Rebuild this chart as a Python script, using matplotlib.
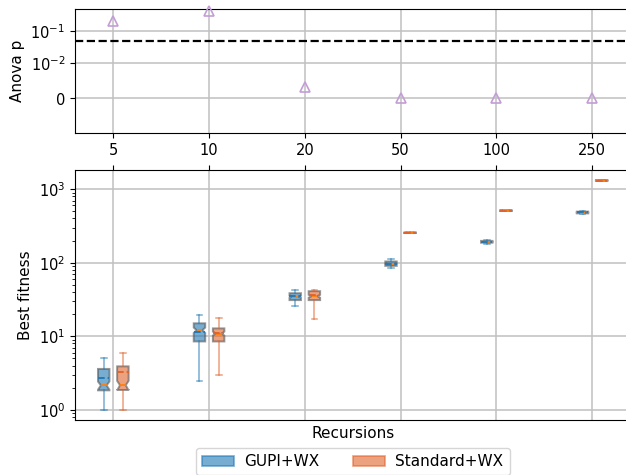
import matplotlib
matplotlib.use("Agg")
import matplotlib.pyplot as plt
from matplotlib.patches import Patch
import numpy as np

recursions = ["5", "10", "20", "50", "100", "250"]
anova_p = [0.22, 0.45, 0.0031, 0.0, 0.0, 0.0]
alpha_level = 0.05

# per-group box statistics, one list per quantity
gupi_med = [2.15, 12.1, 34.5, 96.0, 192.0, 480.0]
gupi_mean = [2.72, 11.4, 34.8, 97.0, 193.0, 482.0]
gupi_q1 = [1.84, 8.5, 31.0, 90.5, 187.0, 468.0]
gupi_q3 = [3.6, 15.0, 38.5, 104.0, 198.0, 495.0]
gupi_lo = [1.0, 2.5, 25.6, 85.0, 181.0, 455.0]
gupi_hi = [5.0, 19.4, 43.0, 113.0, 205.0, 512.0]

std_med = [2.16, 10.9, 35.0, 255.0, 510.0, 1310.0]
std_mean = [3.25, 11.0, 36.5, 255.0, 510.0, 1310.0]
std_q1 = [1.86, 8.5, 31.0, 253.0, 506.0, 1300.0]
std_q3 = [3.9, 12.8, 41.0, 257.0, 514.0, 1320.0]
std_lo = [1.0, 3.0, 17.0, 252.0, 504.0, 1295.0]
std_hi = [6.0, 17.9, 42.0, 258.0, 516.0, 1325.0]

series = [
    ("GUPI+WX", "#1f77b4", -0.1,
     gupi_med, gupi_mean, gupi_q1, gupi_q3, gupi_lo, gupi_hi),
    ("Standard+WX", "#e0622a", 0.1,
     std_med, std_mean, std_q1, std_q3, std_lo, std_hi),
]

plt.rcParams["font.size"] = 10.5

fig = plt.figure(figsize=(6.26, 4.75), dpi=100)
ax_p = fig.add_axes([0.1198, 0.7194, 0.8872, 0.2610])
ax_f = fig.add_axes([0.1198, 0.1151, 0.8872, 0.5270])

x = np.arange(len(recursions))

# anova p-values on a symlog scale
ax_p.plot(x, anova_p, "^", mfc="none", mec="#c49dd6", ms=7, mew=1.2,
          clip_on=False, zorder=3)
ax_p.axhline(alpha_level, color="k", ls="--", lw=1.6, zorder=2)
ax_p.set_yscale("symlog", linthresh=0.01, linscale=1)
ax_p.set_ylim(-0.01, 0.5)
ax_p.set_yticks([0, 0.01, 0.1])
ax_p.minorticks_off()
ax_p.set_xlim(-0.4, 5.4)
ax_p.set_xticks(x)
ax_p.set_xticklabels(recursions)
ax_p.set_ylabel("Anova p", fontsize=11)
ax_p.grid(True, color="#c0c0c0", lw=1.1)
ax_p.set_axisbelow(True)

# best fitness boxes per recursion depth
handles = []
for name, color, off, med, mean, q1, q3, lo, hi in series:
    stats = []
    for i in range(len(recursions)):
        iqr = q3[i] - q1[i]
        ci = 1.57 * iqr / np.sqrt(100)
        stats.append(dict(med=med[i], mean=mean[i], q1=q1[i], q3=q3[i],
                          whislo=lo[i], whishi=hi[i],
                          cilo=med[i] - ci, cihi=med[i] + ci, fliers=[]))
    ax_f.bxp(stats, positions=x + off, widths=0.12, patch_artist=True,
             shownotches=True, showmeans=True, meanline=True,
             manage_ticks=False,
             boxprops=dict(facecolor=color, edgecolor="#555555",
                           lw=1.4, alpha=0.6),
             whiskerprops=dict(color=color, alpha=0.6, lw=1.1),
             capprops=dict(color=color, alpha=0.6, lw=1.1),
             medianprops=dict(color="#ff7f0e", lw=1.3),
             meanprops=dict(color=color, ls="--", lw=1.3))
    handles.append(Patch(facecolor=color, edgecolor=color, alpha=0.6,
                         lw=1.2, label=name))

ax_f.set_yscale("log")
ax_f.set_ylim(0.72, 1820)
ax_f.set_xlim(-0.4, 5.4)
ax_f.set_xticks(x)
ax_f.xaxis.tick_top()
ax_f.tick_params(axis="x", labeltop=False, length=3.5)
ax_f.set_ylabel("Best fitness", fontsize=11)
ax_f.set_xlabel("Recursions", fontsize=11)
ax_f.grid(True, which="major", color="#c0c0c0", lw=1.1)
ax_f.set_axisbelow(True)

ax_f.legend(handles=handles, ncol=2, loc="upper center",
            bbox_to_anchor=(0.5, -0.081), fontsize=11,
            columnspacing=2.15, handlelength=2.1, handletextpad=0.7)

fig.savefig("out.png", dpi=100)
